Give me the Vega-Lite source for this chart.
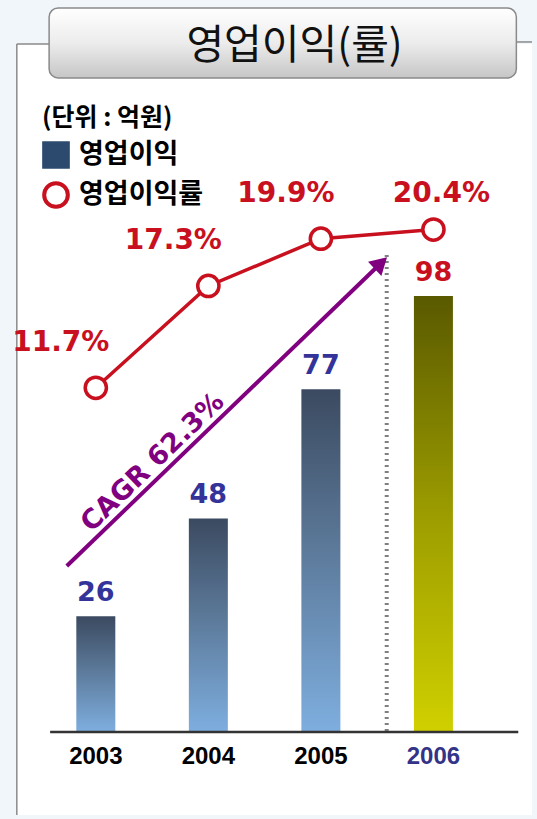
{
  "$schema": "https://vega.github.io/schema/vega-lite/v6.json",
  "width": 537,
  "height": 819,
  "padding": 0,
  "autosize": {"type": "fit", "contains": "padding"},
  "background": "#f1f6fa",
  "config": {"view": {"stroke": null}},
  "data": {"values": [
    {"year": 2003, "profit": 26, "margin": 0.117},
    {"year": 2004, "profit": 48, "margin": 0.173},
    {"year": 2005, "profit": 77, "margin": 0.199},
    {"year": 2006, "profit": 98, "margin": 0.204}
  ]},
  "layer": [
    {
      "layer": [
        {
          "data": {"values": [{}]},
          "mark": {"type": "rect", "fill": "#ffffff"},
          "encoding": {
            "x": {"datum": 2002.298, "type": "quantitative", "scale": {"domain": [2002.193, 2006.876], "nice": false, "zero": false}, "axis": null},
            "x2": {"datum": 2006.876},
            "y": {"datum": 154.6, "type": "quantitative", "scale": {"domain": [-19.55, 164.49], "nice": false, "zero": false}, "axis": null},
            "y2": {"datum": -18.65}
          }
        },
        {
          "data": {"values": [{}]},
          "mark": {"type": "rule", "color": "#8a8a8a", "strokeWidth": 1.5},
          "encoding": {
            "x": {"datum": 2002.298, "type": "quantitative", "scale": {"domain": [2002.193, 2006.876], "nice": false, "zero": false}, "axis": null},
            "y": {"datum": 154.6, "type": "quantitative", "scale": {"domain": [-19.55, 164.49], "nice": false, "zero": false}, "axis": null},
            "y2": {"datum": -18.65}
          }
        },
        {
          "data": {"values": [{}]},
          "mark": {"type": "rule", "color": "#8a8a8a", "strokeWidth": 1.5},
          "encoding": {
            "x": {"datum": 2002.298, "type": "quantitative", "scale": {"domain": [2002.193, 2006.876], "nice": false, "zero": false}, "axis": null},
            "x2": {"datum": 2002.585},
            "y": {"datum": 154.6, "type": "quantitative", "scale": {"domain": [-19.55, 164.49], "nice": false, "zero": false}, "axis": null}
          }
        },
        {
          "data": {"values": [{}]},
          "mark": {"type": "rule", "color": "#8a8a8a", "strokeWidth": 1.5},
          "encoding": {
            "x": {"datum": 2006.737, "type": "quantitative", "scale": {"domain": [2002.193, 2006.876], "nice": false, "zero": false}, "axis": null},
            "x2": {"datum": 2006.876},
            "y": {"datum": 155.06, "type": "quantitative", "scale": {"domain": [-19.55, 164.49], "nice": false, "zero": false}, "axis": null}
          }
        },
        {
          "data": {"values": [{}]},
          "mark": {
            "type": "rect",
            "cornerRadius": 9,
            "stroke": "#8a8a8a",
            "strokeWidth": 1.5,
            "fill": {"gradient": "linear", "x1": 0, "y1": 0, "x2": 0, "y2": 1, "stops": [
              {"offset": 0, "color": "#ffffff"},
              {"offset": 0.5, "color": "#ececec"},
              {"offset": 1, "color": "#c6c6c6"}
            ]}
          },
          "encoding": {
            "x": {"datum": 2002.585, "type": "quantitative", "scale": {"domain": [2002.193, 2006.876], "nice": false, "zero": false}, "axis": null},
            "x2": {"datum": 2006.737},
            "y": {"datum": 162.7, "type": "quantitative", "scale": {"domain": [-19.55, 164.49], "nice": false, "zero": false}, "axis": null},
            "y2": {"datum": 146.97}
          }
        },
        {
          "data": {"values": [{}]},
          "mark": {"type": "text", "text": "영업이익(률)", "font": "Noto Sans CJK KR", "fontSize": 41, "fontWeight": "normal", "color": "#111111", "align": "center", "baseline": "middle"},
          "encoding": {
            "x": {"datum": 2004.766, "type": "quantitative", "scale": {"domain": [2002.193, 2006.876], "nice": false, "zero": false}, "axis": null},
            "y": {"datum": 153.93, "type": "quantitative", "scale": {"domain": [-19.55, 164.49], "nice": false, "zero": false}, "axis": null}
          }
        },
        {
          "data": {"values": [{}]},
          "mark": {"type": "rule", "color": "#808080", "strokeWidth": 4, "strokeDash": [2, 4]},
          "encoding": {
            "x": {"datum": 2005.585, "type": "quantitative", "scale": {"domain": [2002.193, 2006.876], "nice": false, "zero": false}, "axis": null},
            "y": {"datum": 107.19, "type": "quantitative", "scale": {"domain": [-19.55, 164.49], "nice": false, "zero": false}, "axis": null},
            "y2": {"datum": 0}
          }
        },
        {
          "transform": [{"filter": "datum.year < 2006"}],
          "mark": {
            "type": "bar",
            "orient": "vertical",
            "size": 39,
            "fill": {"gradient": "linear", "x1": 0, "y1": 0, "x2": 0, "y2": 1, "stops": [
              {"offset": 0, "color": "#3b4a60"},
              {"offset": 0.45, "color": "#5b7898"},
              {"offset": 1, "color": "#7eaedf"}
            ]}
          },
          "encoding": {
            "x": {"field": "year", "type": "quantitative", "scale": {"domain": [2002.193, 2006.876], "nice": false, "zero": false}, "axis": null},
            "y": {"field": "profit", "type": "quantitative", "scale": {"domain": [-19.55, 164.49], "nice": false, "zero": false}, "axis": null},
            "y2": {"datum": 0}
          }
        },
        {
          "transform": [{"filter": "datum.year === 2006"}],
          "mark": {
            "type": "bar",
            "orient": "vertical",
            "size": 39,
            "fill": {"gradient": "linear", "x1": 0, "y1": 0, "x2": 0, "y2": 1, "stops": [
              {"offset": 0, "color": "#595900"},
              {"offset": 0.5, "color": "#9c9c00"},
              {"offset": 1, "color": "#d0d000"}
            ]}
          },
          "encoding": {
            "x": {"field": "year", "type": "quantitative", "scale": {"domain": [2002.193, 2006.876], "nice": false, "zero": false}, "axis": null},
            "y": {"field": "profit", "type": "quantitative", "scale": {"domain": [-19.55, 164.49], "nice": false, "zero": false}, "axis": null},
            "y2": {"datum": 0}
          }
        },
        {
          "data": {"values": [{}]},
          "mark": {"type": "rule", "color": "#333333", "strokeWidth": 2.5},
          "encoding": {
            "x": {"datum": 2002.594, "type": "quantitative", "scale": {"domain": [2002.193, 2006.876], "nice": false, "zero": false}, "axis": null},
            "x2": {"datum": 2006.754},
            "y": {"datum": 0, "type": "quantitative", "scale": {"domain": [-19.55, 164.49], "nice": false, "zero": false}, "axis": null}
          }
        },
        {
          "mark": {"type": "text", "font": "DejaVu Sans", "fontSize": 27, "fontWeight": "bold", "align": "center", "baseline": "alphabetic", "dy": -15},
          "encoding": {
            "x": {"field": "year", "type": "quantitative", "scale": {"domain": [2002.193, 2006.876], "nice": false, "zero": false}, "axis": null},
            "y": {"field": "profit", "type": "quantitative", "scale": {"domain": [-19.55, 164.49], "nice": false, "zero": false}, "axis": null},
            "text": {"field": "profit", "type": "quantitative"},
            "color": {"condition": {"test": "datum.year === 2006", "value": "#c8101e"}, "value": "#333399"}
          }
        },
        {
          "mark": {"type": "text", "font": "Liberation Sans", "fontSize": 24, "fontWeight": "bold", "align": "center", "baseline": "middle"},
          "encoding": {
            "x": {"field": "year", "type": "quantitative", "scale": {"domain": [2002.193, 2006.876], "nice": false, "zero": false}, "axis": null},
            "y": {"datum": -5.62, "type": "quantitative", "scale": {"domain": [-19.55, 164.49], "nice": false, "zero": false}, "axis": null},
            "text": {"field": "year", "type": "quantitative", "format": "d"},
            "color": {"condition": {"test": "datum.year === 2006", "value": "#333388"}, "value": "#000000"}
          }
        },
        {
          "data": {"values": [{}]},
          "mark": {"type": "rule", "color": "#800080", "strokeWidth": 4},
          "encoding": {
            "x": {"datum": 2002.742, "type": "quantitative", "scale": {"domain": [2002.193, 2006.876], "nice": false, "zero": false}, "axis": null},
            "x2": {"datum": 2005.507},
            "y": {"datum": 37.3, "type": "quantitative", "scale": {"domain": [-19.55, 164.49], "nice": false, "zero": false}, "axis": null},
            "y2": {"datum": 104.72}
          }
        },
        {
          "data": {"values": [{}]},
          "mark": {"type": "point", "shape": "triangle-up", "filled": true, "color": "#800080", "size": 380, "angle": 47, "opacity": 1},
          "encoding": {
            "x": {"datum": 2005.533, "type": "quantitative", "scale": {"domain": [2002.193, 2006.876], "nice": false, "zero": false}, "axis": null},
            "y": {"datum": 105.39, "type": "quantitative", "scale": {"domain": [-19.55, 164.49], "nice": false, "zero": false}, "axis": null}
          }
        },
        {
          "data": {"values": [{}]},
          "mark": {"type": "text", "text": "CAGR 62.3%", "font": "DejaVu Sans", "fontSize": 27, "fontWeight": "bold", "color": "#800080", "angle": -44, "align": "center", "baseline": "middle"},
          "encoding": {
            "x": {"datum": 2003.506, "type": "quantitative", "scale": {"domain": [2002.193, 2006.876], "nice": false, "zero": false}, "axis": null},
            "y": {"datum": 60.56, "type": "quantitative", "scale": {"domain": [-19.55, 164.49], "nice": false, "zero": false}, "axis": null}
          }
        },
        {
          "data": {"values": [{"series": "영업이익"}, {"series": "영업이익률"}]},
          "mark": {"type": "point", "filled": true, "clip": true, "opacity": 1, "strokeWidth": 4},
          "encoding": {
            "x": {"datum": 2010, "type": "quantitative", "scale": {"domain": [2002.193, 2006.876], "nice": false, "zero": false}, "axis": null},
            "fill": {
              "field": "series",
              "type": "nominal",
              "scale": {"domain": ["영업이익", "영업이익률"], "range": ["#2c4a6e", "#ffffff"]},
              "legend": {
                "title": "(단위 : 억원)",
                "orient": "none",
                "legendX": 42,
                "legendY": 106,
                "padding": 0,
                "titleFont": "Noto Sans CJK KR",
                "titleFontSize": 25,
                "titleFontWeight": "bold",
                "titleColor": "#000000",
                "titlePadding": 10,
                "labelFont": "Noto Sans CJK KR",
                "labelFontSize": 27,
                "labelFontWeight": "bold",
                "labelColor": "#000000",
                "labelOffset": 9,
                "symbolSize": 560,
                "symbolStrokeWidth": 4,
                "symbolOpacity": 1,
                "rowPadding": 0
              }
            },
            "stroke": {
              "field": "series",
              "type": "nominal",
              "scale": {"domain": ["영업이익", "영업이익률"], "range": ["#2c4a6e", "#c8101e"]},
              "legend": {
                "title": "(단위 : 억원)",
                "orient": "none",
                "legendX": 42,
                "legendY": 106,
                "padding": 0,
                "titleFont": "Noto Sans CJK KR",
                "titleFontSize": 25,
                "titleFontWeight": "bold",
                "titleColor": "#000000",
                "titlePadding": 10,
                "labelFont": "Noto Sans CJK KR",
                "labelFontSize": 27,
                "labelFontWeight": "bold",
                "labelColor": "#000000",
                "labelOffset": 9,
                "symbolSize": 560,
                "symbolStrokeWidth": 4,
                "symbolOpacity": 1,
                "rowPadding": 0
              }
            },
            "shape": {
              "field": "series",
              "type": "nominal",
              "scale": {"domain": ["영업이익", "영업이익률"], "range": ["square", "circle"]},
              "legend": {
                "title": "(단위 : 억원)",
                "orient": "none",
                "legendX": 42,
                "legendY": 106,
                "padding": 0,
                "titleFont": "Noto Sans CJK KR",
                "titleFontSize": 25,
                "titleFontWeight": "bold",
                "titleColor": "#000000",
                "titlePadding": 10,
                "labelFont": "Noto Sans CJK KR",
                "labelFontSize": 27,
                "labelFontWeight": "bold",
                "labelColor": "#000000",
                "labelOffset": 9,
                "symbolSize": 560,
                "symbolStrokeWidth": 4,
                "symbolOpacity": 1,
                "rowPadding": 0
              }
            }
          }
        }
      ]
    },
    {
      "layer": [
        {
          "mark": {"type": "line", "color": "#c8101e", "strokeWidth": 3.5},
          "encoding": {
            "x": {"field": "year", "type": "quantitative", "scale": {"domain": [2002.193, 2006.876], "nice": false, "zero": false}, "axis": null},
            "y": {"field": "margin", "type": "quantitative", "scale": {"domain": [-0.1202, 0.3303], "nice": false, "zero": false}, "axis": null}
          }
        },
        {
          "mark": {"type": "point", "shape": "circle", "filled": true, "fill": "#ffffff", "stroke": "#c8101e", "strokeWidth": 3.5, "size": 450, "opacity": 1},
          "encoding": {
            "x": {"field": "year", "type": "quantitative", "scale": {"domain": [2002.193, 2006.876], "nice": false, "zero": false}, "axis": null},
            "y": {"field": "margin", "type": "quantitative", "scale": {"domain": [-0.1202, 0.3303], "nice": false, "zero": false}, "axis": null}
          }
        },
        {
          "transform": [{"filter": "datum.year < 2006"}],
          "mark": {"type": "text", "font": "DejaVu Sans", "fontSize": 28, "fontWeight": "bold", "color": "#c8101e", "align": "center", "baseline": "middle", "dx": -35, "dy": -45},
          "encoding": {
            "x": {"field": "year", "type": "quantitative", "scale": {"domain": [2002.193, 2006.876], "nice": false, "zero": false}, "axis": null},
            "y": {"field": "margin", "type": "quantitative", "scale": {"domain": [-0.1202, 0.3303], "nice": false, "zero": false}, "axis": null},
            "text": {"field": "margin", "type": "quantitative", "format": ".1%"}
          }
        },
        {
          "transform": [{"filter": "datum.year === 2006"}],
          "mark": {"type": "text", "font": "DejaVu Sans", "fontSize": 28, "fontWeight": "bold", "color": "#c8101e", "align": "center", "baseline": "middle", "dx": 8, "dy": -36},
          "encoding": {
            "x": {"field": "year", "type": "quantitative", "scale": {"domain": [2002.193, 2006.876], "nice": false, "zero": false}, "axis": null},
            "y": {"field": "margin", "type": "quantitative", "scale": {"domain": [-0.1202, 0.3303], "nice": false, "zero": false}, "axis": null},
            "text": {"field": "margin", "type": "quantitative", "format": ".1%"}
          }
        }
      ]
    }
  ],
  "resolve": {"scale": {"y": "independent"}}
}
